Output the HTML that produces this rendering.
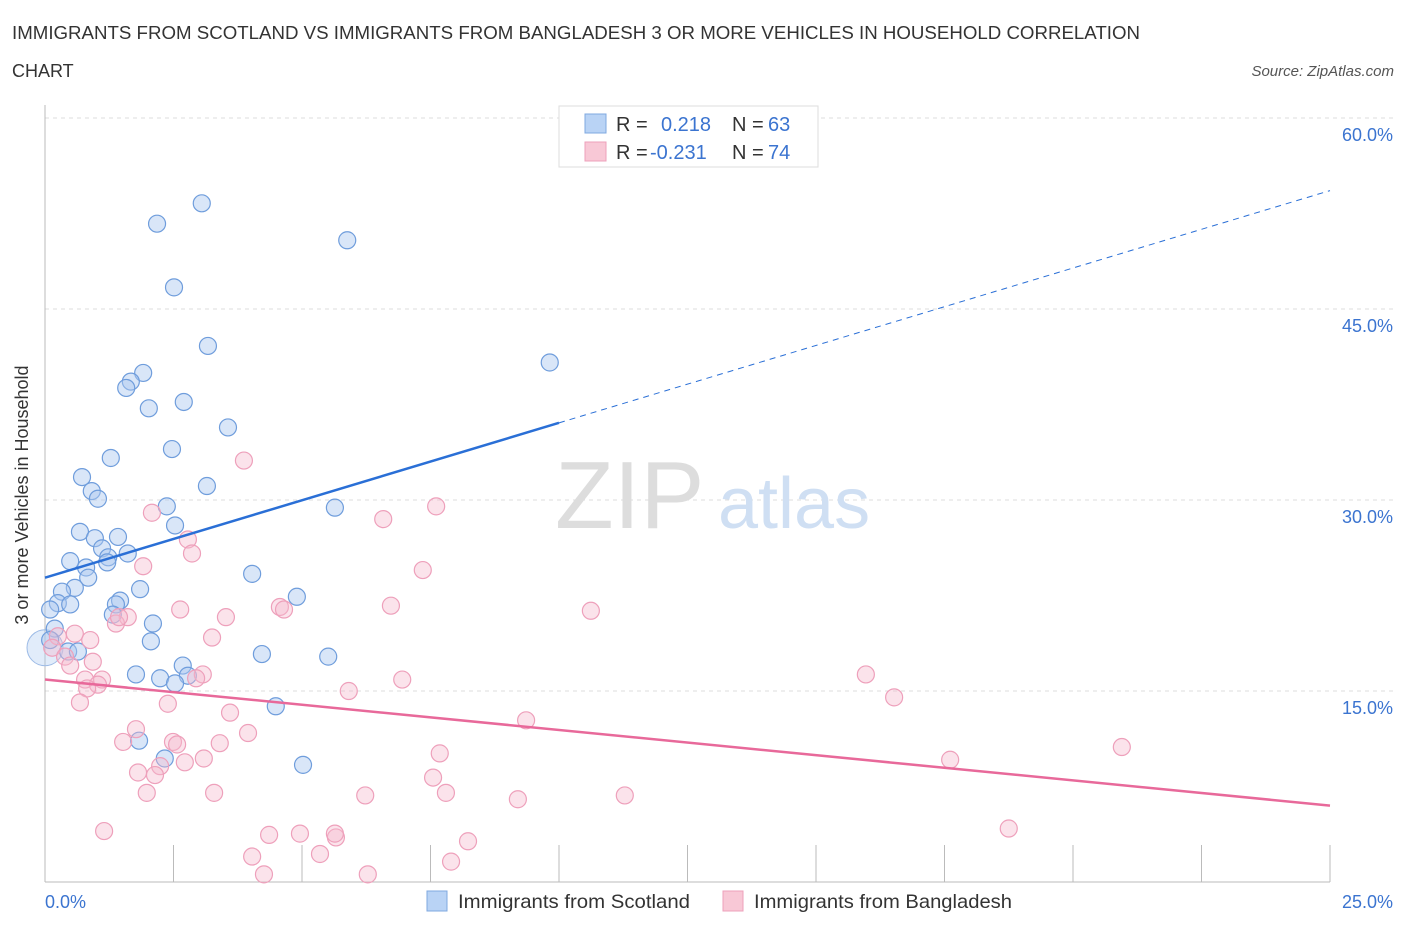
<!DOCTYPE html>
<html><head><meta charset="utf-8"><style>
body{margin:0;background:#fff;font-family:"Liberation Sans",sans-serif;}
svg text{font-family:"Liberation Sans",sans-serif;}
</style></head><body>
<svg width="1406" height="930" viewBox="0 0 1406 930">
<text x="12" y="39" font-size="18" fill="#333" textLength="1128" lengthAdjust="spacingAndGlyphs">IMMIGRANTS FROM SCOTLAND VS IMMIGRANTS FROM BANGLADESH 3 OR MORE VEHICLES IN HOUSEHOLD CORRELATION</text>
<text x="12" y="77" font-size="18" fill="#333">CHART</text>
<text x="1394" y="76" font-size="15" fill="#555" font-style="italic" text-anchor="end">Source: ZipAtlas.com</text>
<g id="grid"></g>
<text x="555" y="528" font-size="96" fill="#ddd" font-family="Liberation Serif">ZIP</text>
<text x="718" y="528" font-size="72" fill="#cfdff3">atlas</text>
<g id="pts"></g>
<g id="lines"></g>
<text x="28" y="495" font-size="18" fill="#333" text-anchor="middle" transform="rotate(-90 28 495)">3 or more Vehicles in Household</text>
<text x="45" y="908" font-size="18" fill="#3b74d0">0.0%</text>
<text x="1393" y="908" font-size="18" fill="#3b74d0" text-anchor="end">25.0%</text>
<g>
<rect x="559" y="106" width="259" height="61" fill="#fff" stroke="#ddd"/>
<rect x="585" y="114" width="21" height="19" fill="#b9d3f5" stroke="#7fa8e0"/>
<rect x="585" y="142" width="21" height="19" fill="#f8c8d6" stroke="#eea0bb"/>
<text x="616" y="131" font-size="20" fill="#333">R = </text><text x="661" y="131" font-size="20" fill="#3b74d0">0.218</text>
<text x="732" y="131" font-size="20" fill="#333">N = </text><text x="768" y="131" font-size="20" fill="#3b74d0">63</text>
<text x="616" y="159" font-size="20" fill="#333">R = </text><text x="650" y="159" font-size="20" fill="#3b74d0">-0.231</text>
<text x="732" y="159" font-size="20" fill="#333">N = </text><text x="768" y="159" font-size="20" fill="#3b74d0">74</text>
</g>
<g>
<rect x="427" y="891" width="20" height="20" fill="#b9d3f5" stroke="#7fa8e0"/>
<text x="458" y="908" font-size="19.5" fill="#333" textLength="232" lengthAdjust="spacingAndGlyphs">Immigrants from Scotland</text>
<rect x="723" y="891" width="20" height="20" fill="#f8c8d6" stroke="#eea0bb"/>
<text x="754" y="908" font-size="19.5" fill="#333" textLength="258" lengthAdjust="spacingAndGlyphs">Immigrants from Bangladesh</text>
</g>
</svg>
<script>
const yTicks=[15,30,45,60];
const yTickLabels=["15.0%","30.0%","45.0%","60.0%"];
const xTicks=[0,2.5,5,7.5,10,12.5,15,17.5,20,22.5,25];
const scotX=[2.18,3.05,5.88,2.51,3.17,9.82,1.91,1.67,1.58,2.70,2.02,3.56,2.47,1.28,0.72,3.15,0.91,1.03,2.37,5.64,2.53,0.68,0.97,1.42,1.11,1.61,1.23,0.49,1.21,0.80,0.84,4.03,1.85,0.58,0.33,4.90,1.46,0.25,0.49,1.38,0.10,1.32,2.10,0.19,0.10,2.06,0.45,0.64,4.22,5.51,2.68,1.77,2.24,2.78,2.53,4.49,1.83,2.33,5.02];
const scotY=[51.7,53.3,50.4,46.7,42.1,40.8,39.98,39.3,38.8,37.7,37.2,35.7,34.0,33.3,31.8,31.1,30.7,30.1,29.5,29.4,28.0,27.5,27.0,27.1,26.2,25.8,25.5,25.2,25.1,24.7,23.9,24.2,23.0,23.1,22.8,22.4,22.1,21.9,21.8,21.8,21.4,21.0,20.3,19.9,19.0,18.9,18.1,18.1,17.9,17.7,17.0,16.3,16.0,16.2,15.6,13.8,11.1,9.7,9.2];
const bangX=[3.87,7.61,6.58,2.08,2.78,2.86,1.91,7.35,6.73,10.62,4.57,4.65,2.63,3.52,1.61,1.38,1.44,3.25,0.58,0.25,0.88,0.14,0.39,0.93,0.49,15.97,3.07,2.94,6.95,0.78,1.11,1.03,0.82,5.91,16.52,0.68,2.39,3.60,9.36,1.77,3.95,1.52,2.49,2.57,3.40,20.95,7.68,3.09,17.61,2.72,2.24,1.81,2.14,7.55,1.98,3.29,6.23,7.80,11.28,9.20,18.75,1.15,4.96,4.36,5.66,5.64,8.23,5.35,4.03,7.90,4.26,6.28];
const bangY=[33.1,29.5,28.5,29.0,26.9,25.8,24.8,24.5,21.7,21.3,21.6,21.4,21.4,20.8,20.8,20.3,20.8,19.2,19.5,19.3,19.0,18.4,17.7,17.3,17.0,16.3,16.3,16.0,15.9,15.9,15.9,15.5,15.2,15.0,14.5,14.1,14.0,13.3,12.7,12.0,11.7,11.0,11.0,10.8,10.9,10.6,10.1,9.7,9.6,9.4,9.1,8.6,8.4,8.2,7.0,7.0,6.8,7.0,6.8,6.5,4.2,4.0,3.8,3.7,3.5,3.8,3.2,2.2,2.0,1.6,0.6,0.6];
const scotTrend=[23.9,54.3];
const bangTrend=[15.9,6.0];
const X=v=>45+v*51.4, Y=v=>882-v*12.733;
const NS="http://www.w3.org/2000/svg";
function mk(t,a,p){const e=document.createElementNS(NS,t);for(const k in a)e.setAttribute(k,a[k]);p.appendChild(e);return e;}
const grid=document.getElementById('grid');
yTicks.forEach((v,i)=>{
 const l=mk('line',{x1:45,x2:1393,y1:Y(v),y2:Y(v),stroke:'#ddd','stroke-dasharray':'4,4'},grid);
 
 
 const t=mk('text',{x:1393,y:Y(v)+23,'font-size':18,fill:'#3b74d0','text-anchor':'end'},grid);t.textContent=yTickLabels[i];
 
 
});
const ax=mk('line',{x1:45,x2:1330,y1:882,y2:882,stroke:'#bbb'},grid);


const ay=mk('line',{x1:45,x2:45,y1:105,y2:882,stroke:'#bbb'},grid);


xTicks.forEach(v=>{const l=mk('line',{x1:X(v),x2:X(v),y1:845,y2:882,stroke:'#bbb'},grid);
 
 });
const pts=document.getElementById('pts');
const big=mk('circle',{cx:X(0),cy:Y(18.4),r:18,fill:'rgba(170,200,240,0.35)',stroke:'#9dbbe6'},pts);


scotX.forEach((v,i)=>{const c=mk('circle',{cx:X(v),cy:Y(scotY[i]),r:8.5,fill:'rgba(170,200,240,0.45)',stroke:'#6f9ddc','stroke-width':1.2},pts);
 
 });
bangX.forEach((v,i)=>{const c=mk('circle',{cx:X(v),cy:Y(bangY[i]),r:8.5,fill:'rgba(246,185,205,0.4)',stroke:'#eea0bb','stroke-width':1.2},pts);
 
 });
const ln=document.getElementById('lines');
const sy=x=>scotTrend[0]+(scotTrend[1]-scotTrend[0])*x/25;
const l1=mk('line',{x1:X(0),y1:Y(sy(0)),x2:X(10),y2:Y(sy(10)),stroke:'#2a6fd6','stroke-width':2.5},ln);


const l2=mk('line',{x1:X(10),y1:Y(sy(10)),x2:X(25),y2:Y(sy(25)),stroke:'#2a6fd6','stroke-width':1,'stroke-dasharray':'6,5'},ln);


const l3=mk('line',{x1:X(0),y1:Y(bangTrend[0]),x2:X(25),y2:Y(bangTrend[1]),stroke:'#e8699a','stroke-width':2.5},ln);


</script>
</body></html>
